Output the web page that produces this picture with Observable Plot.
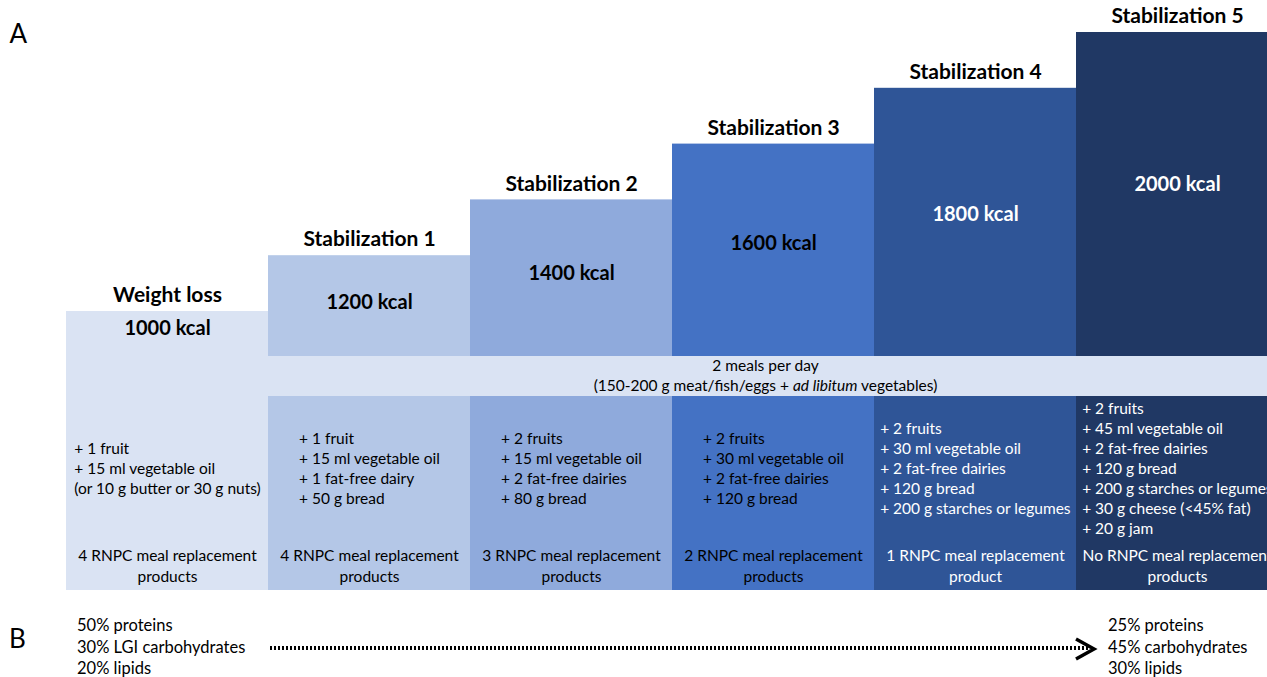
<!DOCTYPE html>
<html>
<head>
<meta charset="utf-8">
<script src="https://cdn.jsdelivr.net/npm/d3@7"></script>
<script src="https://cdn.jsdelivr.net/npm/@observablehq/plot@0.6"></script>
<style>
  html, body { margin: 0; padding: 0; background: #fff; overflow: hidden; }
  body { width: 1267px; height: 677px; font-family: Lato, "Open Sans", sans-serif; }
  #chart svg { display: block; overflow: hidden; }
  #partB { position: relative; width: 1267px; height: 77px; }
  #partB .lbl { position: absolute; left: 9px; top: 20px; font-size: 26px; line-height: 36px; }
  #partB .macro { position: absolute; top: 15px; font-size: 16.5px; line-height: 21.5px; white-space: nowrap; }
  #partB .dots { position: absolute; left: 270px; top: 46px; width: 818px; height: 4px;
    background: repeating-linear-gradient(to right, #000 0 2px, transparent 2px 4px); }
  #partB svg.head { position: absolute; left: 1070px; top: 36px; }
</style>
</head>
<body>
<div id="chart"></div>
<div id="partB"></div>
<script>
// ---- data ----
const phases = ["Weight loss", "Stabilization 1", "Stabilization 2", "Stabilization 3", "Stabilization 4", "Stabilization 5"];
const kcal = [1000, 1200, 1400, 1600, 1800, 2000];
const foods = [
  "+ 1 fruit\n+ 15 ml vegetable oil\n(or 10 g butter or 30 g nuts)",
  "+ 1 fruit\n+ 15 ml vegetable oil\n+ 1 fat-free dairy\n+ 50 g bread",
  "+ 2 fruits\n+ 15 ml vegetable oil\n+ 2 fat-free dairies\n+ 80 g bread",
  "+ 2 fruits\n+ 30 ml vegetable oil\n+ 2 fat-free dairies\n+ 120 g bread",
  "+ 2 fruits\n+ 30 ml vegetable oil\n+ 2 fat-free dairies\n+ 120 g bread\n+ 200 g starches or legumes",
  "+ 2 fruits\n+ 45 ml vegetable oil\n+ 2 fat-free dairies\n+ 120 g bread\n+ 200 g starches or legumes\n+ 30 g cheese (<45% fat)\n+ 20 g jam"
];
const rnpc = [
  "4 RNPC meal replacement\nproducts",
  "4 RNPC meal replacement\nproducts",
  "3 RNPC meal replacement\nproducts",
  "2 RNPC meal replacement\nproducts",
  "1 RNPC meal replacement\nproduct",
  "No RNPC meal replacement\nproducts"
];
const bandNote = ["2 meals per day", "(150-200 g meat/fish/eggs + ad libitum vegetables)"];
const italicPart = "ad libitum";
const macrosStart = ["50% proteins", "30% LGI carbohydrates", "20% lipids"];
const macrosEnd = ["25% proteins", "45% carbohydrates", "30% lipids"];
const panelLabels = ["A", "B"];

// ---- styles ----
const phaseColors = ["#dae3f3", "#b4c7e7", "#8faadc", "#4472c4", "#2f5597", "#203864"];
const bandColor = "#dae3f3";

// ---- layout ----
const Y_DOMAIN = [0, 2000];
const Y_RANGE = [590, 32];
const yPx = d3.scaleLinear().domain(Y_DOMAIN).range(Y_RANGE);
const BAND_TOP = yPx.invert(356), BAND_BOTTOM = yPx.invert(396);
const LIST_MID = yPx.invert(467), RNPC_MID = yPx.invert(564.5), BAND_MID = yPx.invert(376);

const table = phases.map((phase, i) => ({
  phase, kcal: kcal[i], label: `${kcal[i]} kcal`, foods: foods[i], rnpc: rnpc[i],
  dark: d3.hsl(phaseColors[i]).l < 0.45
}));
const first = table.slice(0, 1), stab = table.slice(1);
const stabLabelY = d => d.kcal + 0.47 * (BAND_TOP - d.kcal);
const FS = 15.5;

const chart = Plot.plot({
  width: 1267,
  height: 600,
  margin: 0,
  style: { fontFamily: "Lato, 'Open Sans', sans-serif", overflow: "hidden", background: "#fff" },
  x: { type: "band", domain: phases, range: [66, 1278], padding: 0, axis: null },
  y: { domain: Y_DOMAIN, range: Y_RANGE, axis: null },
  color: { type: "ordinal", domain: phases, range: phaseColors },
  marks: [
    Plot.barY(table, { x: "phase", y: "kcal", fill: "phase" }),
    Plot.barY(stab, { x: "phase", y1: BAND_BOTTOM, y2: BAND_TOP, fill: bandColor }),
    // titles above each step
    Plot.text(table, { x: "phase", y: "kcal", text: "phase", dy: -16, fontSize: 21, fontWeight: "bold", fill: "#000", lineAnchor: "middle" }),
    // kcal labels
    Plot.text(first, { x: "phase", y: "kcal", text: "label", dy: 17, fontSize: 20, fontWeight: "bold", fill: "#000", lineAnchor: "middle" }),
    Plot.text(stab.filter(d => !d.dark), { x: "phase", y: stabLabelY, text: "label", fontSize: 20, fontWeight: "bold", fill: "#000", lineAnchor: "middle" }),
    Plot.text(stab.filter(d => d.dark), { x: "phase", y: stabLabelY, text: "label", fontSize: 20, fontWeight: "bold", fill: "#fff", lineAnchor: "middle" }),
    // band note
    Plot.text(bandNote, { x: () => phases[3], y: () => BAND_MID, text: d => d, dx: -8, dy: (d, i) => 0, fontSize: FS, fill: "#000", lineAnchor: "middle", filter: (d, i) => i === 0, dy: -10 }),
    Plot.text(bandNote, { x: () => phases[3], y: () => BAND_MID, text: d => d, dx: -8, fontSize: FS, fill: "#000", lineAnchor: "middle", filter: (d, i) => i === 1, dy: 10 }),
    // food lists
    Plot.text(table.filter(d => !d.dark), { x: "phase", y: () => LIST_MID, text: "foods", textAnchor: "start", lineAnchor: "middle", lineHeight: 1.3, fontSize: FS, fill: "#000" }),
    Plot.text(table.filter(d => d.dark), { x: "phase", y: () => LIST_MID, text: "foods", textAnchor: "start", lineAnchor: "middle", lineHeight: 1.3, fontSize: FS, fill: "#fff" }),
    // RNPC
    Plot.text(table.filter(d => !d.dark), { x: "phase", y: () => RNPC_MID, text: "rnpc", lineAnchor: "middle", lineHeight: 1.36, fontSize: FS, fill: "#000" }),
    Plot.text(table.filter(d => d.dark), { x: "phase", y: () => RNPC_MID, text: "rnpc", lineAnchor: "middle", lineHeight: 1.36, fontSize: FS, fill: "#fff" }),
    // panel label A
    Plot.text([panelLabels[0]], { frameAnchor: "top-left", text: d => d, dx: 9, dy: 34, fontSize: 26, fill: "#000", textAnchor: "start", lineAnchor: "middle" })
  ]
});
document.getElementById("chart").appendChild(chart);

// center the left-aligned food lists in their columns
const foodKeys = new Set(foods.map(f => f.replace(/\n/g, "")));
d3.select(chart).selectAll("text").each(function () {
  if (!foodKeys.has(this.textContent)) return;
  const w = this.getBBox().width;
  this.setAttribute("transform", (this.getAttribute("transform") || "") + ` translate(${-w / 2},0)`);
});
// italic "ad libitum"
d3.select(chart).selectAll("text").each(function () {
  const s = this.textContent;
  if (s !== bandNote[1]) return;
  const i = s.indexOf(italicPart);
  const t = d3.select(this);
  t.text(null);
  t.append("tspan").text(s.slice(0, i));
  t.append("tspan").attr("font-style", "italic").text(italicPart);
  t.append("tspan").text(s.slice(i + italicPart.length));
});

// ---- part B ----
const B = d3.select("#partB");
B.append("div").attr("class", "lbl").text(panelLabels[1]);
B.append("div").attr("class", "macro").style("left", "77px").html(macrosStart.join("<br>"));
B.append("div").attr("class", "macro").style("left", "1108px").html(macrosEnd.join("<br>"));
B.append("div").attr("class", "dots");
B.append("svg").attr("class", "head").attr("width", 30).attr("height", 26)
  .append("polyline").attr("points", "6,3 24,13 6,23").attr("fill", "none").attr("stroke", "#000").attr("stroke-width", 3.5);
</script>
</body>
</html>
